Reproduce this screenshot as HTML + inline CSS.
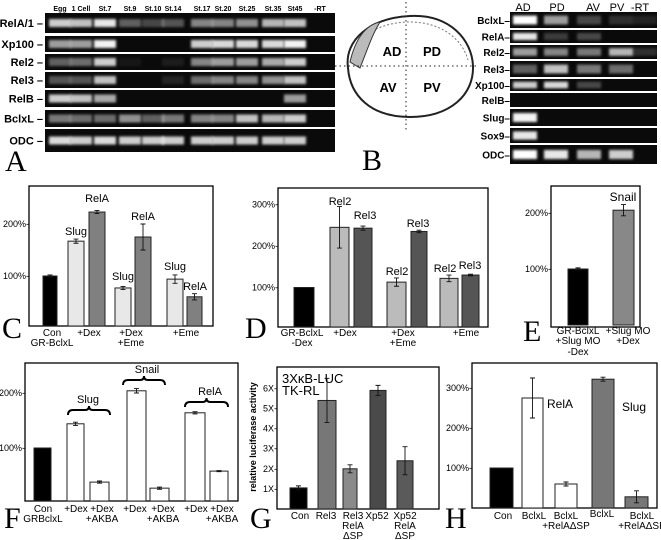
<!DOCTYPE html>
<html><head><meta charset="utf-8"><style>
html,body{margin:0;padding:0;background:#fff}
svg{display:block;font-family:"Liberation Sans",sans-serif}
.lt{font-family:"Liberation Serif",serif}
</style></head><body>
<svg id="fig" width="661" height="540" viewBox="0 0 661 540" xmlns="http://www.w3.org/2000/svg">
<defs><filter id="bl" x="-30%" y="-60%" width="160%" height="220%"><feGaussianBlur stdDeviation="1.3"/></filter></defs>
<g id="gA"></g>
<g id="gB">
<path d="M348,68 C344,40 370,18 410,16 C450,14 472,40 473,66 C474,95 450,117 410,117 C370,117 350,95 348,68 Z" fill="none" stroke="#222" stroke-width="2"/>
<path d="M352,55 C360,32 385,22 410,22 C440,22 462,38 468,60" fill="none" stroke="#777" stroke-width="1" stroke-dasharray="2,2"/>
<path d="M350,62 C355,40 365,25 380,22 C372,35 368,48 360,68 Z" fill="#bbb" stroke="#333" stroke-width="1"/>
<line x1="406" y1="2" x2="406" y2="130" stroke="#222" stroke-dasharray="1.5,3"/>
<line x1="335" y1="66" x2="476" y2="66" stroke="#222" stroke-dasharray="1.5,3"/>
<text x="392" y="56" font-size="13" font-weight="bold" text-anchor="middle">AD</text>
<text x="432" y="56" font-size="13" font-weight="bold" text-anchor="middle">PD</text>
<text x="388" y="92" font-size="13" font-weight="bold" text-anchor="middle">AV</text>
<text x="432" y="92" font-size="13" font-weight="bold" text-anchor="middle">PV</text>
</g>
<g id="gB2"></g>
<g id="charts"></g>
<text class="lt" x="5" y="171" font-size="30">A</text>
<text class="lt" x="362" y="170" font-size="30">B</text>
<text class="lt" x="2" y="338" font-size="30">C</text>
<text class="lt" x="245" y="338" font-size="30">D</text>
<text class="lt" x="523" y="341" font-size="30">E</text>
<text class="lt" x="4" y="528" font-size="30">F</text>
<text class="lt" x="250" y="528" font-size="30">G</text>
<text class="lt" x="445" y="528" font-size="30">H</text>
</svg>
<script>
const NS="http://www.w3.org/2000/svg";
// ---- gel data ----
const gelAColumns=["Egg","1 Cell","St.7","St.9","St.10","St.14","St.17","St.20","St.25","St.35","St45","-RT"];
const gelARows=["RelA/1","Xp100","Rel2","Rel3","RelB","BclxL","ODC"];
const gelAIntensity=[
[.8,.75,.9,.35,.25,.3,.5,.5,.55,.7,.75,0],
[.6,.6,.95,0,0,0,.8,.85,.85,.85,.95,0],
[.35,.4,.8,.05,0,.08,.5,.6,.6,.65,.8,0],
[.3,.3,.75,0,0,.1,.4,.5,.5,.55,.75,0],
[.8,.75,.65,0,0,0,0,0,0,0,.6,0],
[.45,.4,.4,.55,.35,.45,.5,.5,.75,.7,.8,0],
[.85,.8,.85,.8,.8,.8,.8,.8,.8,.8,.8,0]];
const gelBColumns=["AD","PD","AV","PV","-RT"];
const gelBRows=["BclxL","RelA","Rel2","Rel3","Xp100","RelB","Slug","Sox9","ODC"];
const gelBIntensity=[
[1,.6,.25,.15,.1],[.9,.2,.25,0,0],[.6,.5,.45,.7,.15],[.35,.75,.45,.4,0],
[.8,.85,.25,0,0],[0,0,0,0,0],[.95,0,0,0,0],[.9,0,0,0,0],[1,.9,.7,.8,0]];
// ---- chart data ----
const cValues=[100,167,223,77,175,94,60];
const cErrors=[2,4,3,3,25,8,6];
const cTicks=[100,200];
const dValues=[100,245,243,113,235,122,130];
const dErrors=[0,50,5,10,3,8,2];
const dTicks=[100,200,300];
const eValues=[100,205];
const eErrors=[2,10];
const eTicks=[100,200];
const fValues=[100,144,38,204,27,164,58];
const fErrors=[0,3,2,4,2,2,1];
const fTicks=[100,200];
const gValues=[1.05,5.4,2.0,5.9,2.4];
const gErrors=[0.1,1.1,0.2,0.25,0.7];
const gTicks=[1,2,3,4,5,6];
const hValues=[100,275,60,322,28];
const hErrors=[0,50,5,5,15];
const hTicks=[100,200,300];

function mk(tag,attrs,parent){const e=document.createElementNS(NS,tag);for(const k in attrs)e.setAttribute(k,attrs[k]);parent.appendChild(e);return e;}
function txt(parent,x,y,s,size,anchor,weight){const t=mk('text',{x:x,y:y,'font-size':size,'text-anchor':anchor||'middle','font-weight':weight||'normal'},parent);t.textContent=s;return t;}

// Gel A
(function(){
 const g=document.getElementById('gA');
 const colX=[60,81,105,130,153,173,202,223,247,273,295,320];
 const rowY=[[13,33],[36,52],[54,70],[72,88],[90,107],[110,127],[129,152]];
 gelAColumns.forEach((c,i)=>{const t=txt(g,colX[i],11,c,7,'middle','bold');
  
  });
 gelARows.forEach((r,ri)=>{
  const [y0,y1]=rowY[ri];
  const s=mk('rect',{x:45,y:y0,width:290,height:y1-y0,fill:'#0a0a0a'},g);
  
  
  const l=txt(g,43,(y0+y1)/2+4,r+' –',11,'end','bold');
  
  
  gelAIntensity[ri].forEach((v,ci)=>{ if(v<=0) return;
   const h=Math.min(8,(y1-y0)*0.5);
   const b=mk('rect',{x:colX[ci]-11,y:(y0+y1)/2-h/2,width:22,height:h,fill:'#fff','fill-opacity':v,filter:'url(#bl)'},g);
   
   
  });
 });
})();
// Gel B
(function(){
 const g=document.getElementById('gB2');
 const colX=[525,556,589,621,645];
 const rowY=[[12,28],[30,43],[45,59],[61,77],[79,91],[93,107],[109,126],[128,143],[145,164]];
 const hx=[523,557,593,617,640];
 gelBColumns.forEach((c,i)=>{const t=txt(g,hx[i],11,c,11,'middle');
  
  });
 gelBRows.forEach((r,ri)=>{
  const [y0,y1]=rowY[ri];
  const s=mk('rect',{x:510,y:y0,width:147,height:y1-y0,fill:'#0a0a0a'},g);
  
  
  const l=txt(g,510,(y0+y1)/2+4,r+'–',10,'end','bold');
  
  
  gelBIntensity[ri].forEach((v,ci)=>{ if(v<=0) return;
   const h=Math.min(9,(y1-y0)*0.55);
   const b=mk('rect',{x:colX[ci]-12,y:(y0+y1)/2-h/2,width:24,height:h,fill:'#fff','fill-opacity':v,filter:'url(#bl)'},g);
   
   
  });
 });
})();

function chart(id,cfg){
 const g=mk('g',{},document.getElementById('charts'));
 
 
 const y=v=>cfg.zero-v*cfg.k;
 const base=Math.min(cfg.zero,cfg.box[3]);
 const ax=mk('rect',{x:cfg.box[0],y:cfg.box[1],width:cfg.box[2]-cfg.box[0],height:cfg.box[3]-cfg.box[1],fill:'none',stroke:'#000','stroke-width':1.3},g);
 
 
 cfg.ticks.forEach(t=>{
  const lb=txt(g,cfg.box[0],y(t)+3,cfg.fmt(t),9,'end');
  
  
 });
 cfg.values.forEach((v,i)=>{
  const x=cfg.xs[i],w=cfg.ws[i];
  const r=mk('rect',{x:x,y:y(v),width:w,height:Math.max(0,base-y(v)),fill:cfg.colors[i],stroke:'#222','stroke-width':1},g);
  
  
  const e=cfg.errors[i];
  if(e>0){
   const cx=x+w/2;
   const el=mk('path',{d:`M${cx},${y(v+e)}V${y(v-e)}M${cx-2.5},${y(v+e)}h5M${cx-2.5},${y(v-e)}h5`,stroke:'#111','stroke-width':0.9,fill:'none'},g);
   
   
  }
 });
 (cfg.labels||[]).forEach(L=>{
  const t=txt(g,L[0],L[1],L[2],L[3]||11,'middle');
  
  
 });
 (cfg.braces||[]).forEach(B=>{
  const [x0,x1,yy]=B,m=(x0+x1)/2;
  const p=mk('path',{d:`M${x0},${yy+5}Q${x0},${yy} ${x0+5},${yy}H${m-4}Q${m},${yy} ${m},${yy-4}Q${m},${yy} ${m+4},${yy}H${x1-5}Q${x1},${yy} ${x1},${yy+5}`,fill:'none',stroke:'#000','stroke-width':2},g);
  
  
 });
 return g;
}
const pct=t=>t+'%-';
const LI='#e8e8e8',DK='#808080';
chart('chart-c',{box:[29,186,213,326],zero:328,k:0.52,ticks:cTicks,fmt:pct,values:cValues,errors:cErrors,
 xs:[43,68,89,115,135,167,187],ws:[14,16,16,16,16,16,15],colors:['#000',LI,DK,LI,DK,LI,DK],
 labels:[[76,235,'Slug'],[97,202,'RelA'],[123,280,'Slug'],[143,220,'RelA'],[175,270,'Slug'],[195,290,'RelA'],
  [52,336,'Con',10],[52,346,'GR-BclxL',10],[89,336,'+Dex',10],[131,336,'+Dex',10],[131,346,'+Eme',10],[186,336,'+Eme',10]]});
chart('chart-d',{box:[278,188,488,327],zero:329,k:0.415,ticks:dTicks,fmt:pct,values:dValues,errors:dErrors,
 xs:[294,330,354,387,411,440,462],ws:[20,19,18,19,16,18,17],colors:['#000','#bbb','#555','#bbb','#555','#bbb','#555'],
 labels:[[340,205,'Rel2'],[365,219,'Rel3'],[397,275,'Rel2'],[418,227,'Rel3'],[445,272,'Rel2'],[470,269,'Rel3'],
  [302,336,'GR-BclxL',10],[302,346,'-Dex',10],[345,336,'+Dex',10],[403,336,'+Dex',10],[403,346,'+Eme',10],[466,336,'+Eme',10]]});
chart('chart-e',{box:[551,186,640,327],zero:325,k:0.56,ticks:eTicks,fmt:pct,values:eValues,errors:eErrors,
 xs:[568,613],ws:[20,21],colors:['#000','#888'],
 labels:[[623,201,'Snail',12],[578,334,'GR-BclxL',10],[578,344,'+Slug MO',10],[578,355,'-Dex',10],[628,334,'+Slug MO',10],[628,344,'+Dex',10]]});
chart('chart-f',{box:[25,363,238,501],zero:503,k:0.55,ticks:fTicks,fmt:pct,values:fValues,errors:fErrors,
 xs:[34,67,90,127,150,185,210],ws:[17,17,19,19,19,20,18],colors:['#000','#fff','#fff','#fff','#fff','#fff','#fff'],
 labels:[[88,403,'Slug'],[147,373,'Snail'],[210,395,'RelA'],
  [43,512,'Con',10],[43,522,'GRBclxL',10],[76,512,'+Dex',10],[102,512,'+Dex',10],[102,522,'+AKBA',10],[135,512,'+Dex',10],[163,512,'+Dex',10],[163,522,'+AKBA',10],[196,512,'+Dex',10],[222,512,'+Dex',10],[222,522,'+AKBA',10]],
 braces:[[68,110,410],[123,165,380],[185,228,402]]});
chart('chart-g',{box:[277,367,439,509],zero:509,k:20.1,ticks:gTicks,fmt:t=>t+'X-',values:gValues,errors:gErrors,
 xs:[290,318,343,370,397],ws:[17,18,14,16,16],colors:['#000','#777','#8a8a8a','#4a4a4a','#5a5a5a'],
 labels:[[300,519,'Con',10],[326,519,'Rel3',10],[353,519,'Rel3',10],[353,529,'RelA',10],[353,539,'ΔSP',10],[377,519,'Xp52',10],[405,519,'Xp52',10],[405,529,'RelA',10],[405,539,'ΔSP',10]]});
chart('chart-h',{box:[472,363,657,508],zero:508,k:0.4,ticks:hTicks,fmt:pct,values:hValues,errors:hErrors,
 xs:[490,522,555,592,625],ws:[23,21,22,22,23],colors:['#000','#fff','#fff','#777','#777'],
 labels:[[560,408,'RelA',12],[634,411,'Slug',12],[503,519,'Con',10],[534,519,'BclxL',10],[566,519,'BclxL',10],[566,529,'+RelAΔSP',10],[602,517,'BclxL',10],[642,519,'BclxL',10],[642,529,'+RelAΔSP',10]]});
(function(){
 const g=document.getElementById('charts');
 const t1=txt(g,282,383,'3XκB-LUC',13,'start');
 
 
 const t2=txt(g,282,395,'TK-RL',13,'start');
 
 
 const t3=mk('text',{x:0,y:0,'font-size':9,'font-weight':'bold','text-anchor':'middle',transform:'translate(256,437) rotate(-90)'},g);
 t3.textContent='relative luciferase activity';
 
 
})();
</script>
</body></html>
